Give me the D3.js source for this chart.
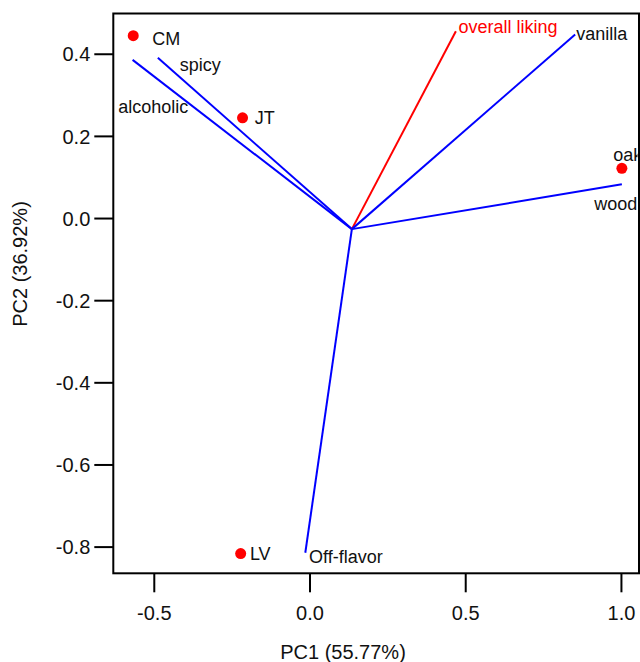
<!DOCTYPE html>
<html>
<head>
<meta charset="utf-8">
<script src="https://cdn.jsdelivr.net/npm/d3@7/dist/d3.min.js"></script>
<style>
  html, body { margin: 0; padding: 0; background: #fff; }
  svg { display: block; font-family: "Liberation Sans", Arial, sans-serif; }
</style>
</head>
<body>
<svg id="chart" width="640" height="662"></svg>
<script>
// ---- data ----
const sampleNames = ["CM", "JT", "oak", "LV"];
const samplePC1 = [-0.566, -0.215, 1.003, -0.221];
const samplePC2 = [0.444, 0.244, 0.121, -0.817];

const vectorNames = ["alcoholic", "spicy", "overall liking", "vanilla", "wood", "Off-flavor"];
const vectorPC1 = [-0.568, -0.487, 0.470, 0.853, 1.003, -0.0135];
const vectorPC2 = [0.385, 0.390, 0.455, 0.447, 0.082, -0.815];
const vectorOrigin = [0.136, -0.027];
const highlighted = ["overall liking"];

const xTicks = [-0.5, 0.0, 0.5, 1.0];
const yTicks = [0.4, 0.2, 0.0, -0.2, -0.4, -0.6, -0.8];
const xTitle = "PC1 (55.77%)";
const yTitle = "PC2 (36.92%)";

// ---- layout ----
const svg = d3.select("#chart");
const pLeft = 113.3, pRight = 639, pTop = 13.5, pBottom = 573.3;
const x = d3.scaleLinear().domain([-0.630, 1.058]).range([pLeft, pRight]);
const y = d3.scaleLinear().domain([0.498, -0.865]).range([pTop, pBottom]);

const fmt = v => v.toFixed(1);
const tickLen = 19;

// axes
const xAxis = svg.append("g")
  .attr("transform", `translate(0,${pBottom})`)
  .call(d3.axisBottom(x).tickValues(xTicks).tickFormat(fmt).tickSize(tickLen).tickPadding(13));
const yAxis = svg.append("g")
  .attr("transform", `translate(${pLeft},0)`)
  .call(d3.axisLeft(y).tickValues(yTicks).tickFormat(fmt).tickSize(tickLen).tickPadding(4));
[xAxis, yAxis].forEach(a => {
  a.select(".domain").remove();
  a.selectAll("line").attr("stroke", "#000").attr("stroke-width", 2);
  a.selectAll("text").attr("font-size", 20).attr("fill", "#111")
    .attr("font-family", "Liberation Sans, Arial, sans-serif");
});
yAxis.selectAll("text").attr("dy", "0.36em");
xAxis.selectAll("text").attr("dy", "0.72em");

// frame
svg.append("rect")
  .attr("x", pLeft).attr("y", pTop)
  .attr("width", pRight - pLeft).attr("height", pBottom - pTop)
  .attr("fill", "none").attr("stroke", "#000").attr("stroke-width", 2);

// clip
svg.append("defs").append("clipPath").attr("id", "plotclip")
  .append("rect").attr("x", pLeft).attr("y", pTop)
  .attr("width", pRight - pLeft - 1.5).attr("height", pBottom - pTop);

const plot = svg.append("g").attr("clip-path", "url(#plotclip)");

// vectors
const vectors = vectorNames.map((n, i) => ({ name: n, px: vectorPC1[i], py: vectorPC2[i] }));
plot.selectAll("line.vec").data(vectors).join("line")
  .attr("class", "vec")
  .attr("x1", x(vectorOrigin[0])).attr("y1", y(vectorOrigin[1]))
  .attr("x2", d => x(d.px)).attr("y2", d => y(d.py))
  .attr("stroke", d => highlighted.includes(d.name) ? "#ff0000" : "#0000ff")
  .attr("stroke-width", 2);

// vector label nudges (px)
const vecNudge = {
  "alcoholic": [-14.4, 53.3],
  "spicy": [22, 13],
  "overall liking": [2.6, 2.3],
  "vanilla": [1, 5.7],
  "wood": [-27.7, 25.7],
  "Off-flavor": [3.7, 10.3]
};
plot.selectAll("text.vec").data(vectors).join("text")
  .attr("class", "vec")
  .attr("x", d => x(d.px) + vecNudge[d.name][0])
  .attr("y", d => y(d.py) + vecNudge[d.name][1])
  .attr("font-size", 18)
  .attr("fill", d => highlighted.includes(d.name) ? "#ff0000" : "#111")
  .text(d => d.name);

// samples
const samples = sampleNames.map((n, i) => ({ name: n, px: samplePC1[i], py: samplePC2[i] }));
plot.selectAll("circle.s").data(samples).join("circle")
  .attr("class", "s")
  .attr("cx", d => x(d.px)).attr("cy", d => y(d.py))
  .attr("r", 5.5).attr("fill", "#ff0000");

const sNudge = {
  "CM": [19, 9.3],
  "JT": [12.3, 6.3],
  "oak": [-8.7, -7.3],
  "LV": [9.2, 6.7]
};
plot.selectAll("text.s").data(samples).join("text")
  .attr("class", "s")
  .attr("x", d => x(d.px) + sNudge[d.name][0])
  .attr("y", d => y(d.py) + sNudge[d.name][1])
  .attr("font-size", 18).attr("fill", "#111")
  .text(d => d.name);

// axis titles
svg.append("text")
  .attr("x", 343).attr("y", 659)
  .attr("text-anchor", "middle").attr("font-size", 20).attr("fill", "#111")
  .text(xTitle);
svg.append("text")
  .attr("transform", "translate(27,264) rotate(-90)")
  .attr("text-anchor", "middle").attr("font-size", 20).attr("fill", "#111")
  .text(yTitle);
</script>
</body>
</html>
